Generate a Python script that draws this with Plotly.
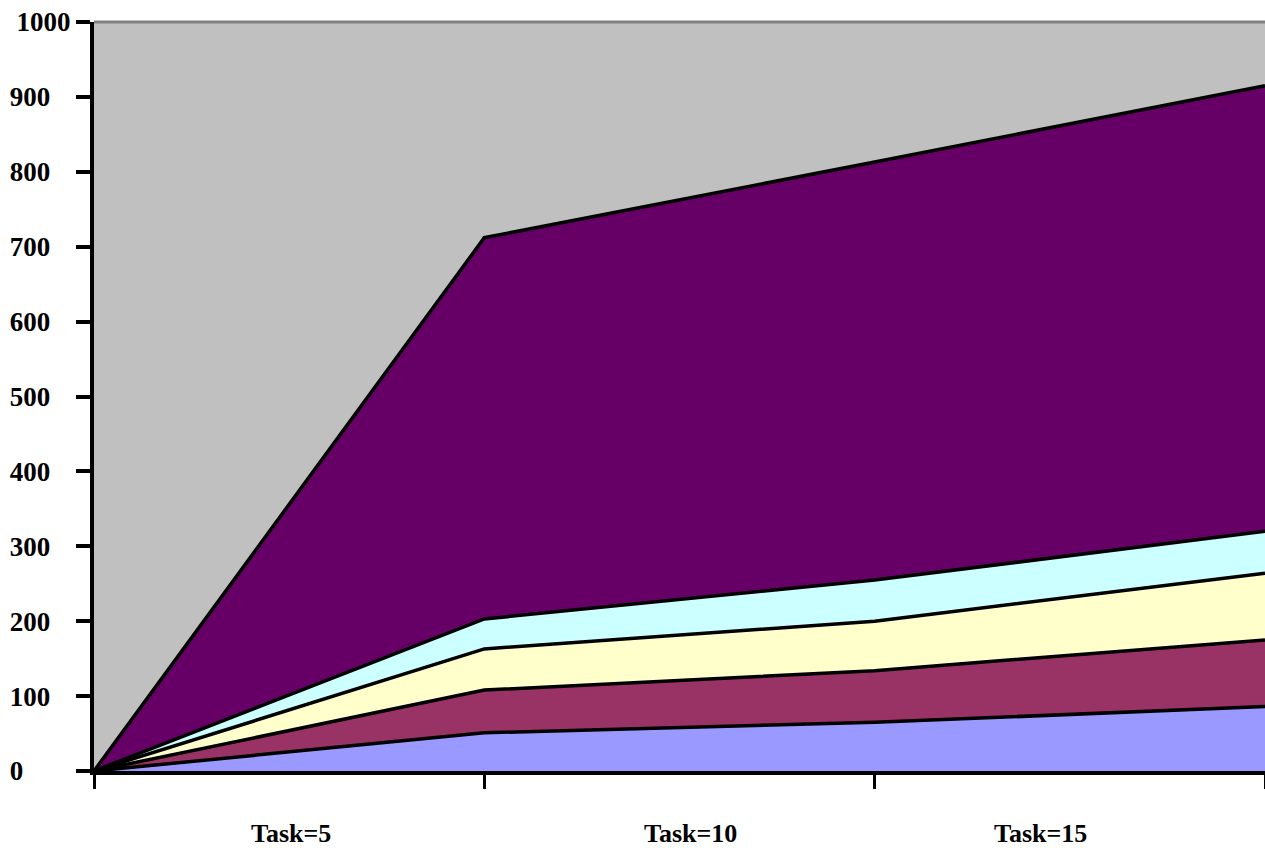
import plotly.graph_objects as go

x_pos = [0, 1, 2, 3]
task_labels = ["Task=5", "Task=10", "Task=15"]
task_label_x = [0.505, 1.527, 2.424]

series_names = ["S1", "S2", "S3", "S4", "S5"]
s1 = [0, 51, 65, 86]
s2 = [0, 57, 69, 89]
s3 = [0, 55, 66, 89]
s4 = [0, 40, 55, 56]
s5 = [0, 509, 558, 595]
series_values = [s1, s2, s3, s4, s5]
colors = ["#9999FF", "#993366", "#FFFFCC", "#CCFFFF", "#660066"]

y_ticks = [0, 100, 200, 300, 400, 500, 600, 700, 800, 900, 1000]

fig = go.Figure()
for name, vals, col in zip(series_names, series_values, colors):
    fig.add_trace(go.Scatter(
        x=x_pos, y=vals, name=name, mode="lines",
        stackgroup="one", fill="tonexty", fillcolor=col,
        line=dict(color="black", width=3.5),
        hoverinfo="skip",
    ))

font_main = dict(family="Liberation Serif", size=27, color="black")


def pad_label(v):
    # labels in the reference are roughly left-aligned
    n = {1: 7, 3: 3, 4: 0}[len(str(v))]
    return "<b>%d</b>" % v + "&nbsp;" * n


for lab, lx in zip(task_labels, task_label_x):
    fig.add_annotation(
        x=lx, xref="x", y=-(833 - 771) / 749, yref="paper",
        text="<b>" + lab + "</b>", showarrow=False,
        xanchor="center", yanchor="middle",
        font=dict(family="Liberation Serif", size=26, color="black"),
    )

fig.add_shape(type="line", xref="paper", yref="paper", x0=0, x1=1, y0=1, y1=1,
              line=dict(color="#808080", width=3))

fig.update_layout(
    width=1265, height=850,
    margin=dict(l=94, r=0, t=22, b=79),
    paper_bgcolor="white",
    plot_bgcolor="#C0C0C0",
    showlegend=False,
    xaxis=dict(
        range=[0, 3], tickvals=[0, 1, 2, 3], showticklabels=False,
        ticks="outside", ticklen=14, tickwidth=3, tickcolor="black",
        showline=True, linecolor="black", linewidth=4,
        showgrid=False, zeroline=False,
    ),
    yaxis=dict(
        range=[0, 1000], tickvals=y_ticks,
        ticktext=[pad_label(v) for v in y_ticks],
        ticks="outside", ticklen=14, tickwidth=4, tickcolor="black",
        showline=True, linecolor="black", linewidth=4,
        showgrid=False, zeroline=False,
        tickfont=font_main,
    ),
)

fig.write_html("out.html")
